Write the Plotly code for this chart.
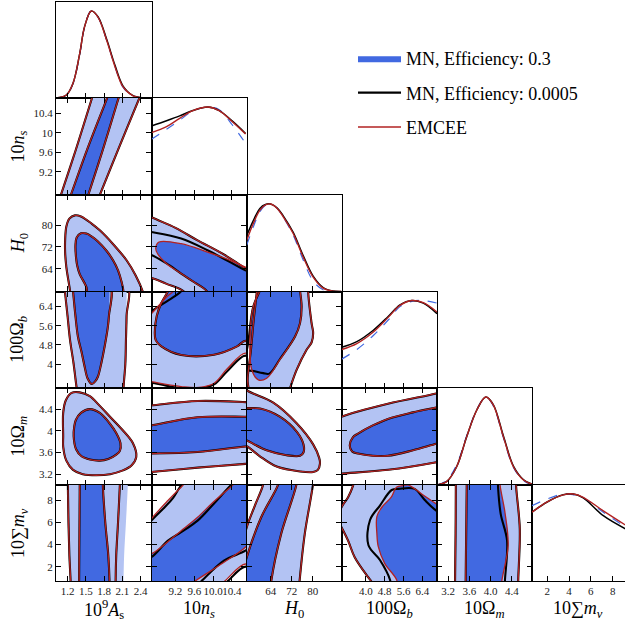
import plotly.graph_objects as go

# ------------------------------------------------------------------ data
PARAMS = ["As", "ns", "H0", "Ob", "Om", "mnu"]
X_TITLES = ["10<sup>9</sup><i>A</i><sub>s</sub>", "10<i>n</i><sub><i>s</i></sub>", "<i>H</i><sub>0</sub>",
            "100Ω<sub><i>b</i></sub>", "10Ω<sub><i>m</i></sub>", "10∑<i>m</i><sub><i>ν</i></sub>"]

X_RANGES = [[1.01, 2.58], [8.69, 10.71], [54.8, 91.0], [2.97, 7.02], [2.99, 4.78], [0.6, 9.13]]
Y_RANGES = [[8.72, 10.715], [8.72, 10.715], [55.6, 91.1], [3.0, 7.03], [3.0, 4.79], [0.71, 9.35]]
PDF_RANGE = [0, 1.103]

X_TICKVALS = [[1.2, 1.5, 1.8, 2.1, 2.4], [9.2, 9.6, 10.0, 10.4], [64, 72, 80],
              [4.0, 4.8, 5.6, 6.4], [3.2, 3.6, 4.0, 4.4], [2, 4, 6, 8]]
X_TICKTEXT = [["1.2", "1.5", "1.8", "2.1", "2.4"], ["9.2", "9.6", "10.0", "10.4"], ["64", "72", "80"],
              ["4.0", "4.8", "5.6", "6.4"], ["3.2", "3.6", "4.0", "4.4"], ["2", "4", "6", "8"]]
Y_TICKTEXT = [[], ["9.2", "9.6", "10", "10.4"], ["64", "72", "80"],
              ["4", "4.8", "5.6", "6.4"], ["3.2", "3.6", "4", "4.4"], ["2", "4", "6", "8"]]

# 1D marginals (normalised to peak)
AS_GRID = [1.01, 1.18, 1.29, 1.40, 1.48, 1.59, 1.70, 1.84, 1.98, 2.11, 2.27, 2.44, 2.58]
AS_PDF_MN03 = [0, 0.03, 0.165, 0.50, 0.815, 1.0, 0.93, 0.67, 0.36, 0.125, 0.025, 0.0, 0.0]
AS_PDF_MN0005 = [0, 0.034, 0.17, 0.51, 0.82, 1.0, 0.935, 0.68, 0.375, 0.14, 0.03, 0.002, 0.0]
AS_PDF_EMCEE = [0, 0.034, 0.169, 0.51, 0.82, 1.0, 0.93, 0.67, 0.36, 0.13, 0.027, 0.0, 0.0]

NS_GRID = [8.69, 9.01, 9.29, 9.57, 9.89, 10.13, 10.41, 10.69]
NS_PDF_MN03 = [0.633, 0.747, 0.85, 0.955, 1.0, 0.97, 0.796, 0.588]
NS_PDF_MN0005 = [0.785, 0.845, 0.90, 0.96, 1.0, 0.96, 0.84, 0.70]
NS_PDF_EMCEE = [0.71, 0.777, 0.872, 0.959, 1.0, 0.959, 0.834, 0.694]

H0_GRID = [54.9, 57.4, 59.9, 62.0, 64.0, 66.5, 68.8, 72.6, 76.4, 80.2, 84.0, 87.8, 91.0]
H0_PDF_MN03 = [0.53, 0.74, 0.91, 0.985, 1.0, 0.95, 0.85, 0.645, 0.36, 0.12, 0.02, 0.0, 0.0]
H0_PDF_MN0005 = [0.64, 0.81, 0.95, 0.995, 1.0, 0.955, 0.865, 0.675, 0.41, 0.175, 0.045, 0.005, 0.0]
H0_PDF_EMCEE = [0.586, 0.778, 0.93, 0.99, 1.0, 0.95, 0.854, 0.663, 0.394, 0.164, 0.038, 0.003, 0.0]

OB_GRID = [2.98, 3.62, 4.32, 4.96, 5.45, 5.95, 6.44, 7.02]
OB_PDF_MN03 = [0.33, 0.44, 0.60, 0.78, 0.93, 0.99, 1.0, 0.97]
OB_PDF_MN0005 = [0.466, 0.53, 0.66, 0.82, 0.95, 1.0, 0.97, 0.85]
OB_PDF_EMCEE = [0.44, 0.508, 0.64, 0.81, 0.944, 1.0, 0.975, 0.868]

OM_GRID = [2.99, 3.17, 3.36, 3.55, 3.74, 3.91, 4.05, 4.24, 4.43, 4.62, 4.78]
OM_PDF_MN03 = [0, 0.05, 0.23, 0.56, 0.86, 1.0, 0.90, 0.54, 0.20, 0.05, 0.005]
OM_PDF_MN0005 = [0, 0.038, 0.208, 0.55, 0.853, 1.0, 0.915, 0.56, 0.215, 0.06, 0.01]
OM_PDF_EMCEE = [0, 0.038, 0.208, 0.55, 0.853, 1.0, 0.91, 0.55, 0.208, 0.057, 0.008]

MNU_GRID = [0.6, 1.95, 3.47, 4.39, 5.30, 7.14, 9.31]
MNU_PDF_MN03 = [0.865, 0.94, 1.0, 0.99, 0.955, 0.79, 0.61]
MNU_PDF_MN0005 = [0.79, 0.905, 0.99, 1.0, 0.955, 0.75, 0.59]
MNU_PDF_EMCEE = [0.79, 0.905, 0.99, 1.0, 0.962, 0.806, 0.632]

# 2D credible contours: [x, y] vertices, x = column parameter, y = row parameter
AS_NS_OUTER = [[1.033, 8.5], [1.09, 8.72], [1.336, 9.65], [1.593, 10.68], [1.65, 10.9],
               [2.44, 10.9], [2.37, 10.68], [2.03, 9.65], [1.73, 8.72], [1.66, 8.5]]
AS_NS_INNER = [[1.19, 8.5], [1.254, 8.72], [1.52, 9.65], [1.84, 10.68], [1.91, 10.9],
               [2.085, 10.9], [2.03, 10.68], [1.78, 9.65], [1.54, 8.72], [1.485, 8.5]]

AS_H0_OUTER = [[1.16, 70], [1.16, 74.4], [1.18, 79.5], [1.23, 82.4], [1.32, 83.6], [1.42, 83.2],
               [1.6, 80.5], [1.73, 78.1], [1.95, 73], [2.17, 67.1], [2.32, 61.5], [2.44, 55.4],
               [2.48, 52], [1.26, 52], [1.24, 56], [1.18, 64.6]]
AS_H0_INNER = [[1.34, 68], [1.33, 72.5], [1.35, 75.5], [1.42, 77.0], [1.51, 76.9], [1.60, 75.8],
               [1.70, 74.0], [1.84, 70.6], [1.95, 67], [2.03, 63.4], [2.09, 59], [2.12, 55.4],
               [2.12, 52], [1.55, 52], [1.51, 57.2], [1.40, 62], [1.36, 65]]

AS_OB_OUTER = [[1.15, 7.3], [1.157, 7.04], [1.2, 6.0], [1.24, 5.02], [1.3, 4.0], [1.35, 3.0],
               [1.37, 2.7], [2.12, 2.7], [2.12, 3.0], [2.15, 4.0], [2.16, 5.0], [2.17, 6.0], [2.17, 7.3]]
AS_OB_INNER = [[1.28, 7.3], [1.29, 7.04], [1.33, 6.0], [1.37, 5.15], [1.43, 4.5], [1.48, 3.9],
               [1.53, 3.4], [1.60, 3.17], [1.66, 3.3], [1.70, 3.48], [1.76, 4.1], [1.81, 4.74],
               [1.86, 5.5], [1.88, 6.0], [1.89, 7.3]]

AS_OM_OUTER = [[1.128, 3.9], [1.128, 4.33], [1.17, 4.56], [1.266, 4.70], [1.40, 4.71], [1.565, 4.64],
               [1.73, 4.46], [1.89, 4.27], [2.1, 4.02], [2.275, 3.77], [2.33, 3.52], [2.25, 3.36],
               [2.11, 3.27], [1.9, 3.2], [1.675, 3.18], [1.45, 3.2], [1.29, 3.28], [1.18, 3.45],
               [1.128, 3.71]]
AS_OM_INNER = [[1.30, 3.9], [1.31, 4.08], [1.336, 4.2], [1.42, 4.33], [1.565, 4.40], [1.73, 4.33],
               [1.89, 4.14], [2.0, 3.96], [2.07, 3.77], [2.06, 3.63], [2.0, 3.56], [1.87, 3.48],
               [1.73, 3.45], [1.57, 3.47], [1.43, 3.53], [1.34, 3.66]]

AS_MNU_OUTER = [[1.25, -0.5], [1.25, 0.65], [1.23, 3], [1.215, 6], [1.205, 9.35], [1.2, 10.5],
                [2.07, 10.5], [2.06, 9.35], [2.03, 6], [2.0, 3], [1.99, 0.65], [1.99, -0.5]]
AS_MNU_OUTER_MN03 = [[1.25, -0.5], [1.25, 0.65], [1.23, 3], [1.215, 6], [1.205, 9.35], [1.2, 10.5],
                     [2.19, 10.5], [2.19, 9.35], [2.16, 6], [2.13, 3], [2.12, 0.65], [2.12, -0.5]]
AS_MNU_INNER = [[1.39, -0.5], [1.39, 0.65], [1.395, 5], [1.40, 9.35], [1.40, 10.5], [1.78, 10.5],
                [1.78, 9.35], [1.82, 6], [1.87, 3], [1.89, 0.65], [1.89, -0.5]]

NS_H0_OUTER = [[8.5, 85], [8.686, 83], [9.2, 79], [9.67, 74.4], [10.2, 69.5], [10.686, 64], [10.9, 61],
               [10.9, 50], [9.5, 50], [9.39, 55.4], [9.0, 58.5], [8.686, 60.7], [8.5, 62]]
NS_H0_INNER = [[8.78, 71.5], [8.85, 73.8], [9.32, 73.2], [9.88, 70.1], [10.3, 67.5], [10.686, 64.6],
               [10.9, 63], [10.9, 50], [9.95, 50], [9.88, 55.4], [9.6, 59], [9.32, 62.2], [9.0, 66],
               [8.82, 69.5]]
NS_H0_INNER_MN0005 = [[8.5, 78], [8.686, 77.5], [9.32, 75.1], [9.88, 70.8], [10.3, 67], [10.686, 63.4],
                      [10.9, 62], [10.9, 50], [9.95, 50], [9.88, 55.4], [9.6, 59], [9.32, 62.2],
                      [9.0, 66], [8.686, 69], [8.5, 70]]

NS_OB_OUTER = [[8.5, 5.75], [8.686, 6.1], [9.04, 6.85], [9.2, 7.1], [9.3, 7.3], [10.9, 7.3], [10.9, 4.0],
               [10.686, 4.46], [10.3, 3.8], [10.02, 3.2], [9.7, 3.02], [9.32, 3.06], [9.0, 3.15],
               [8.686, 3.27], [8.5, 3.3]]
NS_OB_OUTER_MN0005 = [[8.5, 5.85], [8.686, 6.2], [9.0, 6.6], [9.32, 7.04], [9.4, 7.3], [10.9, 7.3],
                      [10.9, 3.9], [10.686, 4.35], [10.3, 3.7], [10.02, 3.15], [9.7, 2.98], [9.32, 3.0],
                      [9.0, 3.1], [8.686, 3.22], [8.5, 3.25]]
NS_OB_INNER = [[8.76, 5.3], [8.8, 6.0], [8.9, 6.55], [9.04, 7.04], [9.1, 7.3], [10.9, 7.3], [10.9, 4.6],
               [10.686, 4.97], [10.51, 4.74], [10.02, 4.39], [9.32, 4.38], [8.9, 4.74], [8.78, 5.0]]

NS_OM_OUTER = [[8.5, 4.46], [8.686, 4.47], [9.67, 4.55], [10.686, 4.53], [10.9, 4.52],
               [10.9, 3.41], [10.686, 3.39], [9.67, 3.32], [8.686, 3.24], [8.5, 3.23]]
NS_OM_INNER = [[8.5, 4.08], [8.686, 4.10], [9.67, 4.25], [10.686, 4.26], [10.9, 4.26],
               [10.9, 3.72], [10.686, 3.71], [9.67, 3.61], [8.686, 3.58], [8.5, 3.58]]

NS_MNU_OUTER = [[8.5, 5.2], [8.686, 6.3], [9.04, 7.95], [9.32, 9.15], [9.45, 9.6], [10.9, 9.6],
                [10.9, 1.5], [10.686, 2.24], [10.23, 0.65], [10.1, 0.3], [8.5, 0.3]]
NS_MNU_OUTER_MN0005 = [[8.5, 5.1], [8.686, 6.14], [8.97, 7.35], [9.15, 8.2], [9.32, 9.3], [9.42, 9.6],
                       [10.9, 9.6], [10.9, 1.3], [10.686, 2.0], [10.3, 0.65], [10.2, 0.3], [8.5, 0.3]]
NS_MNU_INNER = [[8.5, 2.9], [8.686, 3.14], [9.32, 5.24], [9.67, 6.45], [10.0, 7.8], [10.37, 9.15],
                [10.5, 9.6], [10.9, 9.6], [10.9, 4.8], [10.686, 3.75], [10.2, 2.3], [9.6, 0.65],
                [9.5, 0.3], [8.5, 0.3]]
NS_MNU_INNER_MN0005 = [[8.5, 2.6], [8.686, 2.85], [9.04, 4.34], [9.32, 5.1], [9.67, 6.14], [10.0, 7.6],
                       [10.37, 9.3], [10.45, 9.6], [10.9, 9.6], [10.9, 4.2], [10.686, 3.44],
                       [10.23, 2.54], [9.74, 0.65], [9.65, 0.3], [8.5, 0.3]]

H0_OB_OUTER = [[58.9, 7.3], [78.5, 7.3], [78.3, 7.07], [79.6, 5.71], [80.2, 5.30], [79.6, 4.9],
               [77.7, 4.60], [73.9, 3.76], [71.4, 3.0], [70.5, 2.7], [57, 2.7], [55.3, 3.2],
               [55.6, 3.8], [56.4, 4.5], [57.5, 5.8], [58.7, 7.0]]
H0_OB_INNER = [[60.5, 7.3], [59.9, 7.07], [57.4, 6.41], [56.1, 5.02], [56.8, 3.76], [59.3, 3.34],
               [62.5, 3.41], [67.5, 4.18], [73.3, 5.15], [75.2, 5.71], [75.8, 6.41], [75.2, 7.07],
               [75.0, 7.3]]
H0_OB_INNER_MN0005 = [[60.5, 7.3], [59.9, 7.07], [57.4, 6.41], [55.6, 5.0], [54.5, 3.8], [58, 3.7],
                      [61.2, 3.62], [63.5, 3.6], [67.5, 4.2], [73.3, 5.15], [75.2, 5.71], [75.8, 6.41],
                      [75.2, 7.07], [75.0, 7.3]]

H0_OM_OUTER = [[53, 4.82], [55.5, 4.73], [65.0, 4.52], [73.9, 4.14], [80.2, 3.75], [82.5, 3.5],
               [82.8, 3.40], [82, 3.28], [80.2, 3.24], [75.2, 3.25], [66.3, 3.34], [59.9, 3.53],
               [55.5, 3.70], [53, 3.78]]
H0_OM_INNER = [[53, 4.43], [55, 4.42], [60, 4.41], [67.5, 4.26], [74, 3.98], [76.5, 3.75],
               [76.5, 3.6], [75.2, 3.54], [70, 3.55], [62.5, 3.64], [57.4, 3.76], [55, 3.82], [53, 3.84]]

H0_MNU_OUTER = [[53, 3.5], [54.9, 5.55], [58, 7.5], [61.1, 9.36], [61.8, 10.5], [80.5, 10.5],
                [80.1, 9.36], [77, 4.95], [75, 0.65], [74.6, -0.5], [53, -0.5]]
H0_MNU_INNER = [[53, 1.0], [54.9, 2.85], [60.4, 6.45], [66.8, 9.36], [67.8, 10.5], [74.3, 10.5],
                [73.8, 9.36], [68, 4.95], [64.2, 0.65], [63.8, -0.5], [53, -0.5]]

OB_OM_OUTER = [[2.8, 4.22], [2.97, 4.26], [4.94, 4.50], [6.99, 4.69], [7.2, 4.72],
               [7.2, 3.44], [6.99, 3.42], [4.94, 3.28], [2.97, 3.21], [2.8, 3.2]]
OB_OM_INNER = [[3.32, 3.73], [3.45, 3.88], [3.67, 3.95], [4.3, 4.10], [4.94, 4.22], [6.0, 4.34],
               [6.99, 4.43], [7.2, 4.45], [7.2, 3.78], [6.99, 3.76], [6.0, 3.64], [4.94, 3.54],
               [4.3, 3.54], [3.67, 3.58], [3.42, 3.62]]

OB_MNU_OUTER = [[3.46, 9.3], [3.6, 10.5], [7.8, 10.5], [7.8, -0.5], [4.45, -0.5], [4.24, 0.65],
                [4.1, 1.05], [3.53, 2.85], [3.25, 4.34], [2.97, 5.55], [2.8, 6.3], [2.97, 7.35],
                [3.25, 8.25]]
OB_MNU_INNER = [[4.7, 7.4], [5.08, 8.25], [5.3, 9.15], [5.6, 9.3], [5.79, 9.36], [6.4, 8.5],
                [6.99, 7.65], [7.8, 6.6], [7.8, -0.5], [5.4, -0.5], [5.31, 0.8], [4.8, 2.3],
                [4.53, 3.8], [4.47, 5.0], [4.47, 6.5]]
OB_MNU_INNER_MN0005 = [[4.6, 7.5], [5.1, 8.9], [5.4, 9.0], [6.07, 9.0], [6.5, 8.0], [6.99, 7.04],
                       [7.8, 6.0], [7.8, -0.5], [5.1, -0.5], [5.03, 0.8], [4.6, 2.6], [4.11, 3.95],
                       [4.18, 6.2]]

OM_MNU_OUTER = [[3.345, 10.5], [4.48, 10.5], [4.48, 9.3], [4.55, 5.4], [4.52, 0.65], [4.52, -0.5],
                [3.33, -0.5], [3.33, 0.65], [3.34, 5.0], [3.345, 9.3]]
OM_MNU_INNER = [[3.55, 10.5], [4.17, 10.5], [4.18, 9.3], [4.27, 6.9], [4.33, 3.9], [4.21, 0.65],
                [4.2, -0.5], [3.53, -0.5], [3.53, 0.65], [3.54, 5.0], [3.55, 9.3]]
OM_MNU_INNER_MN0005 = [[3.55, 10.5], [4.13, 10.5], [4.14, 9.15], [4.19, 6.75], [4.31, 4.35],
                       [4.27, 0.75], [4.26, -0.5], [3.53, -0.5], [3.53, 0.65], [3.54, 5.0], [3.55, 9.3]]

DIAG = [
    (AS_GRID, AS_PDF_MN03, AS_PDF_MN0005, AS_PDF_EMCEE),
    (NS_GRID, NS_PDF_MN03, NS_PDF_MN0005, NS_PDF_EMCEE),
    (H0_GRID, H0_PDF_MN03, H0_PDF_MN0005, H0_PDF_EMCEE),
    (OB_GRID, OB_PDF_MN03, OB_PDF_MN0005, OB_PDF_EMCEE),
    (OM_GRID, OM_PDF_MN03, OM_PDF_MN0005, OM_PDF_EMCEE),
    (MNU_GRID, MNU_PDF_MN03, MNU_PDF_MN0005, MNU_PDF_EMCEE),
]

# (row, col, MN0.3 fill outer, fill inner, EMCEE outer, EMCEE inner, MN0.0005 outer, MN0.0005 inner)
# None -> same as the previous set
PANELS = [
    (1, 0, AS_NS_OUTER, AS_NS_INNER, None, None, None, None),
    (2, 0, AS_H0_OUTER, AS_H0_INNER, None, None, None, None),
    (3, 0, AS_OB_OUTER, AS_OB_INNER, None, None, None, None),
    (4, 0, AS_OM_OUTER, AS_OM_INNER, None, None, None, None),
    (5, 0, AS_MNU_OUTER_MN03, AS_MNU_INNER, AS_MNU_OUTER, None, None, None),
    (2, 1, NS_H0_OUTER, NS_H0_INNER, None, None, None, NS_H0_INNER_MN0005),
    (3, 1, NS_OB_OUTER, NS_OB_INNER, None, None, NS_OB_OUTER_MN0005, None),
    (4, 1, NS_OM_OUTER, NS_OM_INNER, None, None, None, None),
    (5, 1, NS_MNU_OUTER, NS_MNU_INNER, None, None, NS_MNU_OUTER_MN0005, NS_MNU_INNER_MN0005),
    (3, 2, H0_OB_OUTER, H0_OB_INNER, None, None, None, H0_OB_INNER_MN0005),
    (4, 2, H0_OM_OUTER, H0_OM_INNER, None, None, None, None),
    (5, 2, H0_MNU_OUTER, H0_MNU_INNER, None, None, None, None),
    (4, 3, OB_OM_OUTER, OB_OM_INNER, None, None, None, None),
    (5, 3, OB_MNU_OUTER, OB_MNU_INNER, None, None, None, OB_MNU_INNER_MN0005),
    (5, 4, OM_MNU_OUTER, OM_MNU_INNER, None, None, None, OM_MNU_INNER_MN0005),
]

LEGEND_NAMES = ["MN, Efficiency: 0.3", "MN, Efficiency: 0.0005", "EMCEE"]

# ------------------------------------------------------------------ style / layout
W, H = 625, 626
COL_EDGES = [56, 151.5, 246.5, 341.5, 437, 532, 625]
ROW_EDGES = [2, 98, 195, 291.5, 388, 485, 581]
FONT = "Liberation Serif"
DARK = "#4169e1"
LIGHT = "#b3c3f3"
RED = "#b22222"
BLACK = "#000000"

fig = go.Figure()
layout = {}

axis_index = {}
k = 0
for r in range(6):
    for c in range(r + 1):
        k += 1
        axis_index[(r, c)] = k


def ax_names(r, c):
    i = axis_index[(r, c)]
    s = "" if i == 1 else str(i)
    return "x" + s, "y" + s, "xaxis" + s, "yaxis" + s


for (r, c), i in axis_index.items():
    xn, yn, xk, yk = ax_names(r, c)
    diag = r == c
    layout[xk] = dict(
        domain=[COL_EDGES[c] / W, COL_EDGES[c + 1] / W], anchor=yn, range=X_RANGES[c],
        tickmode="array", tickvals=X_TICKVALS[c], ticktext=X_TICKTEXT[c],
        showticklabels=(r == 5), ticks="inside", ticklen=5, tickwidth=1, tickcolor=BLACK,
        showline=True, linecolor=BLACK, linewidth=1.2,
        mirror=(True if diag else "ticks"), showgrid=False, zeroline=False, tickangle=0,
        tickfont=dict(family=FONT, size=11, color="#222"),
    )
    ycfg = dict(
        domain=[1 - ROW_EDGES[r + 1] / H, 1 - ROW_EDGES[r] / H], anchor=xn,
        showline=True, linecolor=BLACK, linewidth=1.2, showgrid=False, zeroline=False,
        tickfont=dict(family=FONT, size=11, color="#222"),
    )
    if diag:
        ycfg.update(range=PDF_RANGE, showticklabels=False, ticks="", mirror=(c != 5))
    else:
        ycfg.update(range=Y_RANGES[r], tickmode="array", tickvals=X_TICKVALS[r], ticktext=Y_TICKTEXT[r],
                    showticklabels=(c == 0), ticks="inside", ticklen=5, tickwidth=1,
                    tickcolor=BLACK, mirror="ticks")
    layout[yk] = ycfg


def split(pts, close=False):
    xs = [p[0] for p in pts]
    ys = [p[1] for p in pts]
    if close:
        xs.append(pts[0][0])
        ys.append(pts[0][1])
    return xs, ys


shown = {"fill": False, "black": False, "red": False}

for (r, c, fo, fi, ro, ri, bo, bi) in PANELS:
    xn, yn, _, _ = ax_names(r, c)
    ro = ro or fo
    ri = ri or fi
    bo = bo or ro
    bi = bi or ri
    for pts, col in ((fo, LIGHT), (fi, DARK)):
        xs, ys = split(pts)
        leg = (col == DARK and not shown["fill"])
        if leg:
            shown["fill"] = True
        fig.add_trace(go.Scatter(
            x=xs, y=ys, mode="lines", fill="toself", fillcolor=col,
            line=dict(width=0, shape="spline", smoothing=1.0, color=col),
            xaxis=xn, yaxis=yn, hoverinfo="skip",
            name=LEGEND_NAMES[0], legendgroup="g1", showlegend=leg, legendrank=1))
    for pts in (bo, bi):
        xs, ys = split(pts, close=True)
        leg = not shown["black"]
        shown["black"] = True
        fig.add_trace(go.Scatter(
            x=xs, y=ys, mode="lines", line=dict(width=2.1, color=BLACK, shape="spline", smoothing=1.0),
            xaxis=xn, yaxis=yn, hoverinfo="skip",
            name=LEGEND_NAMES[1], legendgroup="g2", showlegend=leg, legendrank=2))
    for pts in (ro, ri):
        xs, ys = split(pts, close=True)
        leg = not shown["red"]
        shown["red"] = True
        fig.add_trace(go.Scatter(
            x=xs, y=ys, mode="lines", line=dict(width=1.3, color=RED, shape="spline", smoothing=1.0),
            xaxis=xn, yaxis=yn, hoverinfo="skip",
            name=LEGEND_NAMES[2], legendgroup="g3", showlegend=leg, legendrank=3))

for c, (grid, p03, p0005, pem) in enumerate(DIAG):
    xn, yn, _, _ = ax_names(c, c)
    fig.add_trace(go.Scatter(x=grid, y=p03, mode="lines",
                             line=dict(width=1.2, color=DARK, dash="dash", shape="spline"),
                             xaxis=xn, yaxis=yn, hoverinfo="skip", showlegend=False))
    fig.add_trace(go.Scatter(x=grid, y=p0005, mode="lines",
                             line=dict(width=1.5, color=BLACK, shape="spline"),
                             xaxis=xn, yaxis=yn, hoverinfo="skip", showlegend=False))
    fig.add_trace(go.Scatter(x=grid, y=pem, mode="lines",
                             line=dict(width=1.4, color=RED, shape="spline"),
                             xaxis=xn, yaxis=yn, hoverinfo="skip", showlegend=False))

annotations = []
for c in range(6):
    xc = (COL_EDGES[c] + COL_EDGES[c + 1]) / 2 / W
    if c == 5:
        xc = 578 / W
    annotations.append(dict(text=X_TITLES[c], x=xc, y=1 - 609 / H, xref="paper", yref="paper",
                            xanchor="center", yanchor="middle", showarrow=False,
                            font=dict(family=FONT, size=18, color=BLACK)))
for r in range(1, 6):
    yc = 1 - (ROW_EDGES[r] + ROW_EDGES[r + 1]) / 2 / H
    annotations.append(dict(text=X_TITLES[r], x=19 / W, y=yc, xref="paper", yref="paper",
                            xanchor="center", yanchor="middle", showarrow=False, textangle=-90,
                            font=dict(family=FONT, size=18, color=BLACK)))

fig.update_layout(
    width=W, height=H, margin=dict(l=0, r=0, t=0, b=0),
    paper_bgcolor="white", plot_bgcolor="white",
    font=dict(family=FONT, size=11, color=BLACK),
    annotations=annotations,
    legend=dict(x=353 / W, y=1 - 40 / H, xanchor="left", yanchor="top",
                bgcolor="rgba(0,0,0,0)", font=dict(family=FONT, size=18, color=BLACK),
                itemwidth=43, tracegroupgap=8, traceorder="grouped"),
    **layout,
)

fig.write_html("out.html")
